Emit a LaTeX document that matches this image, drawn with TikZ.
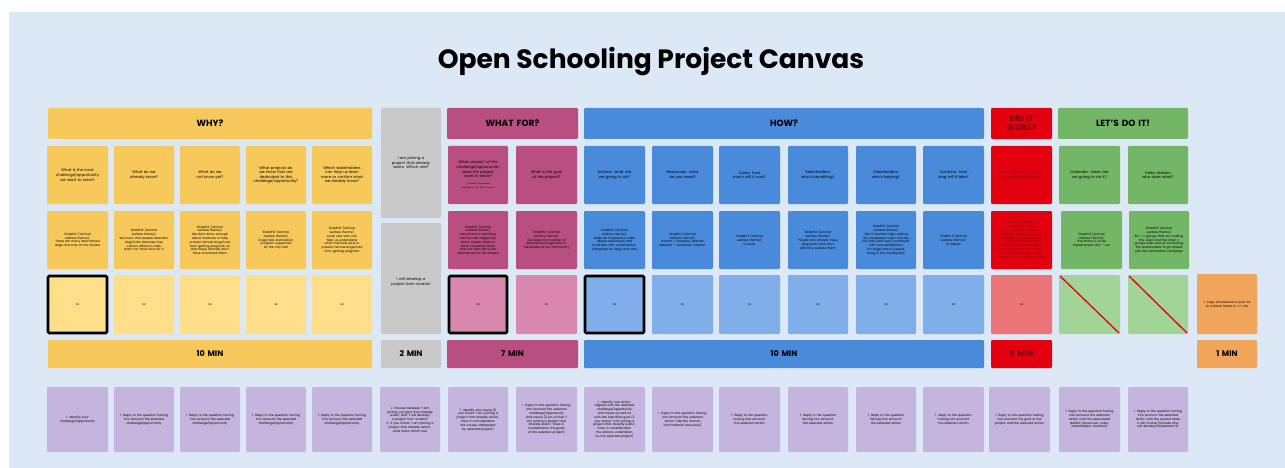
\documentclass[tikz,border=0pt]{standalone}
\usepackage{fontspec}
\setmainfont{Poppins}
\definecolor{bg}{HTML}{DCE8F5}
\definecolor{yel}{HTML}{F7C95B}
\definecolor{yel2}{HTML}{FFDE89}
\definecolor{gry}{HTML}{C9C9C9}
\definecolor{mag}{HTML}{B94F81}
\definecolor{mag2}{HTML}{D888AE}
\definecolor{blu}{HTML}{4A8ADB}
\definecolor{blu2}{HTML}{80AEE9}
\definecolor{redd}{HTML}{E3000F}
\definecolor{red2}{HTML}{EC7577}
\definecolor{darkred}{HTML}{7A0A12}
\definecolor{grn}{HTML}{73B666}
\definecolor{grn2}{HTML}{A3D497}
\definecolor{org}{HTML}{F0A55B}
\definecolor{pur}{HTML}{C4B4DE}
\definecolor{linkc}{HTML}{6A3FA0}
\newcommand\nohy{\hyphenpenalty10000\exhyphenpenalty10000\relax}
\newcommand\mkcell[7]{%
  \pgfmathsetmacro\cw{#5-#3}\pgfmathsetmacro\ch{#6-#4}\pgfmathsetmacro\tw{#5-#3-11}%
  \node[cellbox,#2,minimum width=\cw pt,minimum height=\ch pt,text width=\tw pt] (#1) at ({(#3+#5)/2},{(#4+#6)/2}) {#7};}
\tikzset{
  cellbox/.style={inner sep=0pt,outer sep=0pt,rounded corners=1.2pt,align=center,
    font=\fontsize{3.5}{4.2}\selectfont},
  qtext/.style={font=\nohy\fontsize{3.8}{4.6}\selectfont},
  extext/.style={font=\nohy\fontsize{3.1}{3.8}\selectfont},
  ptext/.style={font=\nohy\fontsize{3.1}{3.8}\selectfont},
  head/.style={font=\bfseries\fontsize{9}{10}\selectfont},
  mins/.style={font=\bfseries\fontsize{8}{9}\selectfont},
  frame/.style={draw=black,line width=2.6pt},
  slash/.style={draw=redd,line width=1.3pt},
}
\begin{document}
\begin{tikzpicture}[x=1pt,y=-1pt]
\useasboundingbox (0,0) rectangle (1285,468);
\fill[white] (0,0) rectangle (1285,468);
\fill[bg] (9,12) rectangle (1285,468);
\node[font=\bfseries\fontsize{26.5}{30}\selectfont] (title) at (651,62) {Open Schooling Project Canvas};
% headers
\mkcell{hwhy}{fill=yel,head}{48}{108}{372}{139}{WHY?}
\mkcell{hfor}{fill=mag,head}{447}{108}{578}{139}{WHAT FOR?}
\mkcell{hhow}{fill=blu,head}{584}{108}{984}{139}{HOW?}
\mkcell{hdid}{fill=redd,head,text=darkred,font=\bfseries\fontsize{8}{8.6}\selectfont}{991}{108}{1052}{139}{DID IT\\WORK?}
\mkcell{hlet}{fill=grn,head}{1058}{108}{1188}{139}{LET'S DO IT!}
% gray column
\mkcell{g1}{fill=gry}{381}{108}{441}{218}{}
\mkcell{g2}{fill=gry}{381}{223}{441}{334}{}
\node[qtext,align=center,text width=46pt,anchor=north] (g1t) at (411,153) {I am joining a project that already exists. Which one?};
\node[qtext,align=center,text width=46pt,anchor=north] (g2t) at (411,274) {I will develop a project from scratch};
% questions row
\mkcell{qy1}{fill=yel,qtext}{47}{146}{108}{204}{What is the local challenge/opportunity we want to solve?}
\mkcell{qy2}{fill=yel,qtext}{114}{146}{174}{204}{What do we already know?}
\mkcell{qy3}{fill=yel,qtext}{180}{146}{240}{204}{What do we not know yet?}
\mkcell{qy4}{fill=yel,qtext}{246}{146}{306}{204}{What projects do we know that are dedicated to this challenge/opportunity?}
\mkcell{qy5}{fill=yel,qtext}{312}{146}{372}{204}{Which stakeholders can help us learn more or confirm what we already know?}
\mkcell{qm1}{fill=mag,qtext}{448}{146}{508}{204}{What causes* of the challenge/opportunity does the project want to solve?\\[2pt]{\fontsize{2}{2.5}\selectfont *Consider the causes identified in the WHY? column}}
\mkcell{qm2}{fill=mag,qtext}{516}{146}{577}{204}{What is the goal of the project?}
\mkcell{qb1}{fill=blu,qtext}{584}{146}{645}{204}{Actions: what are we going to do?}
\mkcell{qb2}{fill=blu,qtext}{652}{146}{713}{204}{Resources: what do you need?}
\mkcell{qb3}{fill=blu,qtext}{719}{146}{780}{204}{Costs: how much will it cost?}
\mkcell{qb4}{fill=blu,qtext}{788}{146}{848}{204}{Stakeholders: who's benefiting?}
\mkcell{qb5}{fill=blu,qtext}{856}{146}{916}{204}{Stakeholders: who's helping?}
\mkcell{qb6}{fill=blu,qtext}{923}{146}{984}{204}{Duration: how long will it take?}
\mkcell{qr}{fill=redd,qtext,text=darkred}{991}{146}{1052}{204}{How will we know if we achieved the goal?}
\mkcell{ql1}{fill=grn,qtext}{1059}{146}{1120}{204}{Calendar: when are we going to do it?}
\mkcell{ql2}{fill=grn,qtext}{1128}{146}{1188}{204}{Tasks division: who does what?}
% examples row
\mkcell{ey1}{fill=yel,extext}{47}{211}{108}{269}{EXAMPLE (animal welfare theme):\\There are many abandoned dogs and cats on the streets}
\mkcell{ey2}{fill=yel,extext}{114}{211}{174}{269}{EXAMPLE (animal welfare theme):\\We know that people abandon dogs/cats because they cannot afford to raise them nor have time for it}
\mkcell{ey3}{fill=yel,extext}{180}{211}{240}{269}{EXAMPLE (animal welfare theme):\\We don't know enough about methods to help prevent female dogs/cats from getting pregnant, so that these animals don't have unwanted litters}
\mkcell{ey4}{fill=yel,extext}{246}{211}{306}{269}{EXAMPLE (animal welfare theme):\\Dogs/cats sterilization program supported by the City Hall}
\mkcell{ey5}{fill=yel,extext}{312}{211}{372}{269}{EXAMPLE (animal welfare theme):\\Local vets who can help us understand what methods exist to prevent female dogs/cats from getting pregnant}
\mkcell{em1}{fill=mag,extext}{448}{211}{508}{269}{EXAMPLE (animal welfare theme):\\People aren't sterilising their female dogs/cats, which causes them to have unwanted litters that are then left to be abandoned on the streets}
\mkcell{em2}{fill=mag,extext}{516}{211}{577}{269}{EXAMPLE (animal welfare theme):\\Decrease the number of abandoned dogs/cats on the streets of our community}
\mkcell{eb1}{fill=blu,extext}{584}{211}{645}{269}{EXAMPLE (animal welfare theme):\\Make an awareness video about sterilization and fundraise with a sterilization campaign for dogs and cats}
\mkcell{eb2}{fill=blu,extext}{652}{211}{713}{269}{EXAMPLE (animal welfare theme):\\Human -- students, teacher\\Material -- computer, internet}
\mkcell{eb3}{fill=blu,extext}{719}{211}{780}{269}{EXAMPLE (animal welfare theme):\\0 euros}
\mkcell{eb4}{fill=blu,extext}{788}{211}{848}{269}{EXAMPLE (animal welfare theme):\\People who already have dogs/cats and can't afford to sterilise them}
\mkcell{eb5}{fill=blu,extext}{856}{211}{916}{269}{EXAMPLE (animal welfare theme):\\The IT teacher helps editing the awareness video and the city hall (and vets) contribute with free sterilizations for dogs/cats of people living in the municipality}
\mkcell{eb6}{fill=blu,extext}{923}{211}{984}{269}{EXAMPLE (animal welfare theme):\\8 classes}
\mkcell{er}{fill=redd,extext,text=darkred}{991}{211}{1052}{269}{EXAMPLE (animal welfare theme):\\We'll count the number of sterilized dogs/cats in our municipality and compare it with the number of abandoned animals before the project; we'll ask the vets and the city hall how many people joined the campaign}
\mkcell{el1}{fill=grn,extext}{1061}{211}{1122}{269}{EXAMPLE (animal welfare theme):\\The action is to be implemented Jan -- Jun}
\mkcell{el2}{fill=grn,extext}{1129}{211}{1189}{269}{EXAMPLE (animal welfare theme):\\8G -- 2 groups that are making the video and the other 2 groups take care of contacting the stakeholders to go ahead with the sterilization campaign}
% xx row
\mkcell{xy1}{fill=yel2,extext,frame}{48}{276}{107}{333}{xx}
\mkcell{xy2}{fill=yel2,extext}{114}{275}{174}{334}{xx}
\mkcell{xy3}{fill=yel2,extext}{180}{275}{240}{334}{xx}
\mkcell{xy4}{fill=yel2,extext}{246}{275}{306}{334}{xx}
\mkcell{xy5}{fill=yel2,extext}{312}{275}{372}{334}{xx}
\mkcell{xm1}{fill=mag2,extext,frame}{449}{276}{507}{333}{xx}
\mkcell{xm2}{fill=mag2,extext}{516}{275}{577}{334}{xx}
\mkcell{xb1}{fill=blu2,extext,frame}{585}{276}{644}{333}{xx}
\mkcell{xb2}{fill=blu2,extext}{652}{275}{713}{334}{xx}
\mkcell{xb3}{fill=blu2,extext}{719}{275}{780}{334}{xx}
\mkcell{xb4}{fill=blu2,extext}{788}{275}{848}{334}{xx}
\mkcell{xb5}{fill=blu2,extext}{856}{275}{916}{334}{xx}
\mkcell{xb6}{fill=blu2,extext}{923}{275}{984}{334}{xx}
\mkcell{xr}{fill=red2,extext}{991}{275}{1052}{334}{xx}
\mkcell{xl1}{fill=grn2}{1059}{275}{1120}{334}{}
\mkcell{xl2}{fill=grn2}{1128}{275}{1188}{334}{}
\draw[slash] ([shift={(1pt,-1pt)}]xl1.north west) -- ([shift={(-1pt,1pt)}]xl1.south east);
\draw[slash] ([shift={(1pt,-1pt)}]xl2.north west) -- ([shift={(-1pt,1pt)}]xl2.south east);
\mkcell{xo}{fill=org,extext}{1197}{274}{1257}{334}{1. Copy all answers in post-its to a blank frame in {\color{linkc}this} file}
% minutes row
\mkcell{my}{fill=yel,mins}{48}{340}{372}{368}{10 MIN}
\mkcell{mg}{fill=gry,mins}{381}{340}{441}{368}{2 MIN}
\mkcell{mm}{fill=mag,mins}{447}{340}{578}{368}{7 MIN}
\mkcell{mb}{fill=blu,mins}{584}{340}{984}{368}{10 MIN}
\mkcell{mr}{fill=redd,mins,text=darkred}{991}{340}{1052}{368}{5 MIN}
\mkcell{mo}{fill=org,mins}{1197}{340}{1257}{368}{1 MIN}
% purple row
\mkcell{py1}{fill=pur,ptext}{47}{387}{108}{452}{1. Identify your challenge/opportunity}
\mkcell{py2}{fill=pur,ptext}{114}{387}{174}{452}{1. Reply to the question having into account the selected challenge/opportunity}
\mkcell{py3}{fill=pur,ptext}{180}{387}{240}{452}{1. Reply to the question having into account the selected challenge/opportunity}
\mkcell{py4}{fill=pur,ptext}{246}{387}{306}{452}{1. Reply to the question having into account the selected challenge/opportunity}
\mkcell{py5}{fill=pur,ptext}{312}{387}{372}{452}{1. Reply to the question having into account the selected challenge/opportunity}
\mkcell{pg}{fill=pur,ptext}{380}{387}{440}{452}{1. Choose between ``I am joining a project that already exists'' and ``I will develop a project from scratch''\\2. If you chose ``I am joining a project that already exists'', write down which one}
\mkcell{pm1}{fill=pur,ptext}{448}{387}{508}{452}{1. Identify one cause (if you chose ``I am joining a project that already exists'', have in consideration the causes addressed by selected project)}
\mkcell{pm2}{fill=pur,ptext}{516}{387}{577}{452}{1. Reply to the question having into account the selected challenge/opportunity and cause (if you chose ``I am joining a project that already exists'', have in consideration the goals of the selected project)}
\mkcell{pb1}{fill=pur,ptext}{584}{387}{645}{452}{1. Identify one action aligned with the selected challenge/opportunity and cause as well as with the identified goal (if you chose ``I am joining a project that already exists'', have in consideration the actions undertaken by the selected project)}
\mkcell{pb2}{fill=pur,ptext}{652}{387}{713}{452}{1. Reply to the question having into account the selected action (identify human and material resources)}
\mkcell{pb3}{fill=pur,ptext}{719}{387}{780}{452}{1. Reply to the question having into account the selected action}
\mkcell{pb4}{fill=pur,ptext}{788}{387}{848}{452}{1. Reply to the question having into account the selected action}
\mkcell{pb5}{fill=pur,ptext}{856}{387}{916}{452}{1. Reply to the question having into account the selected action}
\mkcell{pb6}{fill=pur,ptext}{923}{387}{984}{452}{1. Reply to the question having into account the selected action}
\mkcell{pr}{fill=pur,ptext}{989}{387}{1050}{452}{1. Reply to the question having into account the goal of the project and the selected action}
\mkcell{pl1}{fill=pur,ptext}{1059}{387}{1120}{452}{1. Reply to the question having into account the selected action and the associated details (resources, costs, stakeholders, duration)}
\mkcell{pl2}{fill=pur,ptext}{1128}{387}{1188}{452}{1. Reply to the question having into account the selected action and the several tasks it will involve (include who will develop/implement it)}
\end{tikzpicture}
\end{document}
